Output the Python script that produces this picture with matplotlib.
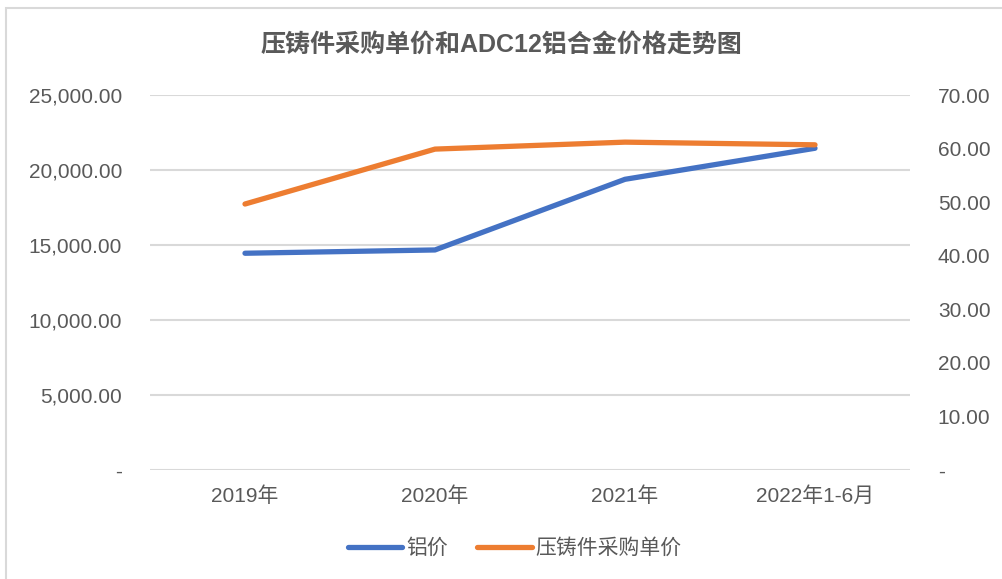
import matplotlib
matplotlib.use("Agg")
from matplotlib import pyplot as plt
from matplotlib.patches import Rectangle
from matplotlib.ticker import FuncFormatter

plt.rcParams['font.family'] = ['Liberation Sans', 'Noto Sans CJK SC', 'DejaVu Sans']

# data
years = ['2019年', '2020年', '2021年', '2022年1-6月']
alu_price = [14450, 14670, 19380, 21450]        # 铝价, left axis
casting_price = [49.65, 59.9, 61.2, 60.7]        # 压铸件采购单价, right axis
left_ticks = [0, 5000, 10000, 15000, 20000, 25000]
right_ticks = [0, 10, 20, 30, 40, 50, 60, 70]

text_color = '#595959'
grid_color = '#D9D9D9'
blue = '#4472C4'
orange = '#ED7D31'


def fmt(v, pos=None):
    # excel accounting style: zero shown as "-"
    if v == 0:
        return '-'
    return '{:,.2f}'.format(v)


fig = plt.figure(figsize=(10.03, 5.79), dpi=100)
fig.patches.append(Rectangle((6 / 1003, -0.1), 1.2, 1 - 8 / 579 + 0.1,
                             transform=fig.transFigure, fill=False,
                             edgecolor='#D9D9D9', linewidth=1.5))

ax = fig.add_axes([150 / 1003, 1 - 470 / 579, 760 / 1003, 375 / 579])
ax2 = ax.twinx()

x = list(range(len(years)))
l1, = ax.plot(x, alu_price, color=blue, linewidth=3.8, solid_capstyle='round',
              label='铝价')
l2, = ax2.plot(x, casting_price, color=orange, linewidth=3.8,
               solid_capstyle='round', label='压铸件采购单价')

ax.set_xlim(-0.5, 3.5)
ax.set_ylim(0, 25000)
ax2.set_ylim(0, 70)
ax.set_yticks(left_ticks)
ax2.set_yticks(right_ticks)
ax.yaxis.set_major_formatter(FuncFormatter(fmt))
ax2.yaxis.set_major_formatter(FuncFormatter(fmt))
ax.set_xticks(x)
ax.set_xticklabels(years)

ax.grid(axis='y', color=grid_color, linewidth=1.5)
ax.set_axisbelow(True)
for a in (ax, ax2):
    for s in a.spines.values():
        s.set_visible(False)
ax.tick_params(axis='y', length=0, pad=20, labelsize=15, labelcolor=text_color)
ax2.tick_params(axis='y', length=0, pad=20, labelsize=15, labelcolor=text_color)
ax.tick_params(axis='x', length=0, pad=12, labelsize=15, labelcolor=text_color)

fig.text(0.5, 1 - 45 / 579, '压铸件采购单价和ADC12铝合金价格走势图', ha='center',
         va='center', fontsize=18, fontweight='bold', color=text_color)

leg = fig.legend([l1, l2], ['铝价', '压铸件采购单价'], loc='center',
                 bbox_to_anchor=(515 / 1003, 1 - 548 / 579), ncol=2,
                 frameon=False, fontsize=15, handlelength=2.6,
                 handletextpad=0.2, columnspacing=1.4)
for t in leg.get_texts():
    t.set_color(text_color)

fig.savefig('out.png', dpi=100)
